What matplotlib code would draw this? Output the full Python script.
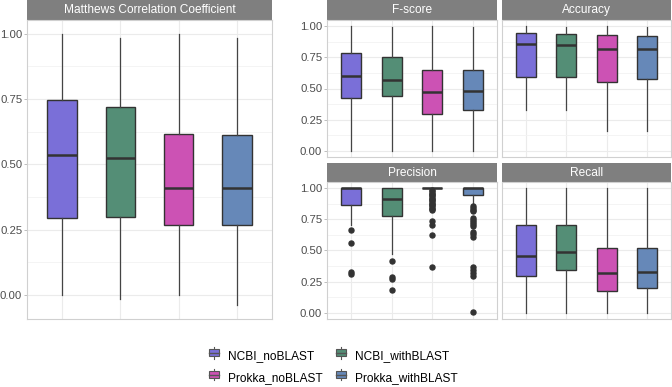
import matplotlib
matplotlib.use("Agg")
import matplotlib.pyplot as plt
from matplotlib.patches import Patch, Rectangle
from matplotlib.lines import Line2D
from matplotlib.legend_handler import HandlerBase
from matplotlib.ticker import MultipleLocator

plt.rcParams['font.family'] = ['Liberation Sans', 'DejaVu Sans']

methods = ['NCBI_noBLAST', 'NCBI_withBLAST', 'Prokka_noBLAST', 'Prokka_withBLAST']
colors = ['#7a6fd8', '#548e76', '#cc52b4', '#6688b8']

# box stats: low whisker, q1, median, q3, high whisker
mcc_lo = [0.00, -0.015, 0.00, -0.04]
mcc_q1 = [0.293, 0.299, 0.267, 0.268]
mcc_med = [0.536, 0.525, 0.41, 0.41]
mcc_q3 = [0.745, 0.72, 0.617, 0.613]
mcc_hi = [1.00, 0.982, 1.00, 0.982]

f_lo = [0.0, 0.0, 0.0, 0.0]
f_q1 = [0.424, 0.443, 0.298, 0.326]
f_med = [0.597, 0.568, 0.475, 0.483]
f_q3 = [0.782, 0.75, 0.65, 0.645]
f_hi = [1.0, 0.99, 1.0, 0.99]

acc_lo = [0.326, 0.326, 0.16, 0.16]
acc_q1 = [0.594, 0.59, 0.555, 0.576]
acc_med = [0.856, 0.85, 0.816, 0.82]
acc_q3 = [0.944, 0.94, 0.93, 0.925]
acc_hi = [1.0, 0.99, 1.0, 0.99]

prec_lo = [0.708, 0.475, 1.0, 0.867]
prec_q1 = [0.867, 0.774, 1.0, 0.947]
prec_med = [1.0, 0.915, 1.0, 1.0]
prec_q3 = [1.0, 1.0, 1.0, 1.0]
prec_hi = [1.0, 1.0, 1.0, 1.0]
prec_out = [
    [0.668, 0.557, 0.324, 0.31],
    [0.416, 0.289, 0.268, 0.185],
    [0.985, 0.975, 0.965, 0.955, 0.945, 0.935, 0.925, 0.915, 0.905, 0.895,
     0.885, 0.875, 0.865, 0.855, 0.845, 0.835, 0.822, 0.734, 0.708, 0.626, 0.368],
    [0.854, 0.84, 0.828, 0.815, 0.76, 0.745, 0.728, 0.712, 0.695,
     0.65, 0.63, 0.61, 0.37, 0.345, 0.32, 0.297, 0.005],
]

rec_lo = [0.0, 0.0, 0.0, 0.0]
rec_q1 = [0.292, 0.34, 0.175, 0.197]
rec_med = [0.456, 0.488, 0.318, 0.324]
rec_q3 = [0.703, 0.703, 0.517, 0.517]
rec_hi = [1.0, 1.0, 1.0, 1.0]

W, H = 672, 387
fig = plt.figure(figsize=(W / 100, H / 100), dpi=100)
fig.patch.set_facecolor('white')

EDGE = '#333333'
GRID = '#ebebeb'
BORDER = '#d0d0d0'
STRIP = '#7f7f7f'


def px_axes(x0, y0, x1, y1):
    return fig.add_axes([x0 / W, 1 - y1 / H, (x1 - x0) / W, (y1 - y0) / H])


def panel(x0, y0, x1, y1, strip_h, title, lo, q1, med, q3, hi, fliers=None,
          ylim=None, ylabels=True):
    st = px_axes(x0, y0, x1, y0 + strip_h)
    st.set_facecolor(STRIP)
    st.set_xticks([]); st.set_yticks([])
    for s in st.spines.values():
        s.set_visible(False)
    st.text(0.5, 0.5, title, color='white', fontsize=8.6, ha='center', va='center',
            transform=st.transAxes)

    ax = px_axes(x0, y0 + strip_h, x1, y1)
    stats = []
    for i in range(len(methods)):
        stats.append(dict(whislo=lo[i], q1=q1[i], med=med[i], q3=q3[i], whishi=hi[i],
                          fliers=fliers[i] if fliers else [], label=methods[i]))
    bp = ax.bxp(stats, positions=range(1, 5), widths=0.5, patch_artist=True,
                showcaps=False, manage_ticks=False,
                boxprops=dict(edgecolor=EDGE, linewidth=1.0),
                medianprops=dict(color=EDGE, linewidth=1.8),
                whiskerprops=dict(color='#444444', linewidth=0.9),
                flierprops=dict(marker='o', markerfacecolor=EDGE, markeredgecolor=EDGE,
                                markersize=3.6, linestyle='none'))
    for b, c in zip(bp['boxes'], colors):
        b.set_facecolor(c)
    ax.set_xlim(0.4, 4.6)
    ax.set_ylim(*ylim)
    ax.yaxis.set_major_locator(MultipleLocator(0.25))
    ax.yaxis.set_minor_locator(MultipleLocator(0.125))
    ax.set_xticks(range(1, 5))
    ax.set_xticklabels([])
    ax.grid(True, which='major', color=GRID, linewidth=0.8)
    ax.grid(True, which='minor', axis='y', color='#f3f3f3', linewidth=0.6)
    ax.set_axisbelow(True)
    ax.tick_params(axis='x', length=0)
    ax.tick_params(axis='y', which='major', length=2.0 if ylabels else 0, width=0.6,
                   color='#b3b3b3', labelsize=8.2, labelcolor='#4d4d4d', pad=1.5,
                   labelleft=ylabels)
    ax.tick_params(axis='y', which='minor', length=0)
    ax.yaxis.set_major_formatter(matplotlib.ticker.FormatStrFormatter('%.2f'))
    for s in ax.spines.values():
        s.set_color(BORDER)
        s.set_linewidth(0.8)
    return ax


panel(27, 0, 272, 319, 20, 'Matthews Correlation Coefficient',
      mcc_lo, mcc_q1, mcc_med, mcc_q3, mcc_hi, ylim=(-0.092, 1.052))
panel(327, 0, 497, 157, 20, 'F-score', f_lo, f_q1, f_med, f_q3, f_hi, ylim=(-0.05, 1.05))
panel(502, 0, 671, 157, 20, 'Accuracy', acc_lo, acc_q1, acc_med, acc_q3, acc_hi,
      ylim=(-0.05, 1.05), ylabels=False)
panel(327, 163, 497, 319, 19, 'Precision', prec_lo, prec_q1, prec_med, prec_q3, prec_hi,
      fliers=prec_out, ylim=(-0.05, 1.05))
panel(502, 163, 671, 319, 19, 'Recall', rec_lo, rec_q1, rec_med, rec_q3, rec_hi,
      ylim=(-0.05, 1.05), ylabels=False)


class BoxKey(HandlerBase):
    def create_artists(self, legend, orig, xd, yd, width, height, fontsize, trans):
        cx = xd + width / 2
        bw = width * 0.85
        top = yd + height * 1.05
        bot = yd - height * 0.05
        b0 = yd + height * 0.2
        b1 = yd + height * 0.8
        rect = Rectangle((cx - bw / 2, b0), bw, b1 - b0, facecolor=orig.get_facecolor(),
                         edgecolor='#555555', linewidth=0.8, transform=trans)
        med = Line2D([cx - bw / 2, cx + bw / 2], [yd + height / 2] * 2, color='#555555',
                     linewidth=1.0, transform=trans)
        w1 = Line2D([cx, cx], [b1, top], color='#555555', linewidth=0.8, transform=trans)
        w2 = Line2D([cx, cx], [bot, b0], color='#555555', linewidth=0.8, transform=trans)
        return [w1, w2, rect, med]


# legend fills column by column, so order the handles to read row by row
order = [0, 2, 1, 3]
handles = [Patch(facecolor=colors[i], label=methods[i]) for i in order]
fig.legend(handles=handles, loc='center', bbox_to_anchor=(333 / W, 1 - 367 / H),
           ncol=2, frameon=False, fontsize=8.6, handlelength=1.0, handleheight=1.0,
           handletextpad=0.7, columnspacing=1.0, labelspacing=0.8,
           handler_map={Patch: BoxKey()})

fig.savefig('out.png', dpi=100, facecolor='white')
